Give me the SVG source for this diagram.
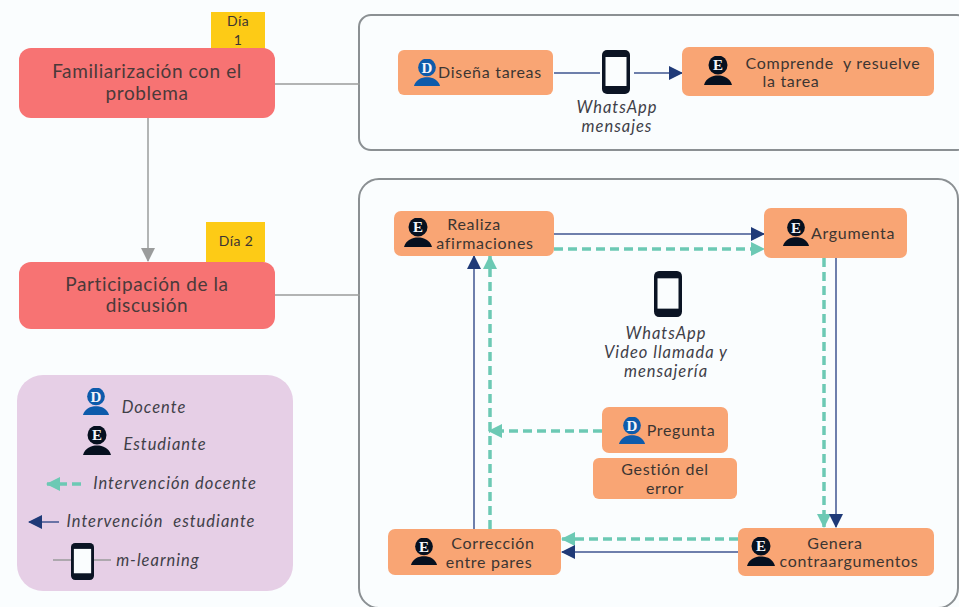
<svg xmlns="http://www.w3.org/2000/svg" width="959" height="607" viewBox="0 0 959 607">
<style>
text{font-family:"Lato","Open Sans","Liberation Sans",sans-serif;fill:#3c3532;text-anchor:middle;white-space:pre}
.t{font-size:16px;letter-spacing:.7px}
.h{font-size:19px;letter-spacing:.6px;fill:#4a3a3a}
.i{font-size:16.500px;letter-spacing:1px;font-style:italic;fill:#3f4048}
.d{font-size:14px;letter-spacing:.4px}
.o{fill:#f9a574}
.r{fill:#f77373}
.y{fill:#fdcb16}
.p{fill:#fafdfe;stroke:#8b9093;stroke-width:2}
.g{fill:none;stroke:#9a9c9c;stroke-width:1.5}
.n{fill:none;stroke:#3f5590;stroke-width:1.5}
.m{fill:none;stroke:#6cc9b4;stroke-width:3.5;stroke-dasharray:9 5}
.ltr{font-family:"Liberation Serif",serif;font-weight:700;font-size:15px;fill:#f4f6fa}
</style>
<defs>
<marker id="an" markerUnits="userSpaceOnUse" markerWidth="14" markerHeight="14" refX="13" refY="7" orient="auto"><path d="M0 0L14 7L0 14Z" fill="#1f3a78"/></marker>
<marker id="at" markerUnits="userSpaceOnUse" markerWidth="14" markerHeight="14" refX="13" refY="7" orient="auto"><path d="M0 0L14 7L0 14Z" fill="#6cc9b4"/></marker>
<marker id="ag" markerUnits="userSpaceOnUse" markerWidth="14" markerHeight="14" refX="13" refY="7" orient="auto"><path d="M0 0L14 7L0 14Z" fill="#9a9c9c"/></marker>
<symbol id="phone" viewBox="0 0 28 44" preserveAspectRatio="none"><rect width="28" height="44" rx="5" fill="#0b1424"/><rect x="3.500" y="7" width="21" height="29" fill="#fafdfe"/></symbol>
<symbol id="pd" viewBox="0 0 30 30"><circle cx="15" cy="9" r="9.500" fill="#0d5bab"/><path d="M1 29C3 22 9 19.500 15 19.500S27 22 29 29Z" fill="#0d5bab"/></symbol>
<symbol id="pe" viewBox="0 0 30 30"><circle cx="15" cy="9" r="9.500" fill="#06101f"/><path d="M1 29C3 22 9 19.500 15 19.500S27 22 29 29Z" fill="#06101f"/></symbol>
</defs>
<rect width="959" height="607" fill="#fafdfe"/>
<g id="panel1"><rect class="p" x="359" y="15" width="610" height="135" rx="12"/></g>
<g id="panel2"><rect class="p" x="359" y="179" width="599" height="429" rx="20"/></g>
<g id="connectors">
<path class="g" d="M275 84H360M275 295H360"/>
<path class="g" d="M148 118V261" marker-end="url(#ag)"/>
<path class="n" d="M554 73H600M634 73H682" marker-end="url(#an)"/>
<path class="n" d="M554 234H764" marker-end="url(#an)"/>
<path class="m" d="M554 249H764" marker-end="url(#at)"/>
<path class="m" d="M824 258V527" marker-end="url(#at)"/>
<path class="n" d="M836 258V527" marker-end="url(#an)"/>
<path class="m" d="M738 539H562" marker-end="url(#at)"/>
<path class="n" d="M738 552H562" marker-end="url(#an)"/>
<path class="n" d="M474 529V256" marker-end="url(#an)"/>
<path class="m" d="M490 529V256" marker-end="url(#at)"/>
<path class="m" d="M602 431H489" marker-end="url(#at)"/>
</g>
<g id="dia1"><rect class="y" x="211" y="12" width="54" height="38"/><text class="d" x="238" y="26">Día</text><text class="d" x="238" y="45">1</text></g>
<g id="familiarizacion"><rect class="r" x="19" y="48" width="256" height="70" rx="12"/><text class="h" x="147" y="78">Familiarización con el</text><text class="h" x="147" y="100">problema</text></g>
<g id="dia2"><rect class="y" x="206" y="222" width="59" height="40"/><text class="d" x="236" y="246">Día 2</text></g>
<g id="participacion"><rect class="r" x="19" y="262" width="256" height="67" rx="12"/><text class="h" x="147" y="291">Participación de la</text><text class="h" x="147" y="312">discusión</text></g>
<g id="disena"><rect class="o" x="398" y="50" width="155" height="45" rx="6"/><use href="#pd" x="413" y="59" width="28" height="28"/><text class="ltr" x="427" y="72.500">D</text><text class="t" x="490" y="78">Diseña tareas</text></g>
<g id="phone1"><use href="#phone" x="602" y="50" width="28" height="44"/><text class="i" x="617" y="113">WhatsApp</text><text class="i" x="617" y="132">mensajes</text></g>
<g id="comprende"><rect class="o" x="682" y="47" width="252" height="49" rx="7"/><use href="#pe" x="703" y="56" width="30" height="30"/><text class="ltr" x="718" y="70">E</text><text class="t" x="833" y="69">Comprende  y resuelve</text><text class="t" x="791" y="87">la tarea</text></g>
<g id="realiza"><rect class="o" x="394" y="211" width="160" height="45" rx="7"/><use href="#pe" x="403" y="218" width="30" height="30"/><text class="ltr" x="418" y="232">E</text><text class="t" x="474" y="230">Realiza</text><text class="t" x="485" y="249">afirmaciones</text></g>
<g id="argumenta"><rect class="o" x="764" y="208" width="143" height="50" rx="7"/><use href="#pe" x="782" y="219" width="28" height="28"/><text class="ltr" x="796" y="233">E</text><text class="t" x="853" y="239">Argumenta</text></g>
<g id="phone2"><use href="#phone" x="654" y="271" width="28" height="46"/><text class="i" x="666" y="339">WhatsApp</text><text class="i" x="666" y="358">Video llamada y</text><text class="i" x="666" y="377">mensajería</text></g>
<g id="pregunta"><rect class="o" x="602" y="407" width="126" height="46" rx="7"/><use href="#pd" x="618" y="417" width="28" height="28"/><text class="ltr" x="632" y="430.500">D</text><text class="t" x="681" y="436">Pregunta</text></g>
<g id="gestion"><rect class="o" x="593" y="458" width="144" height="41" rx="6"/><text class="t" x="665" y="475">Gestión del</text><text class="t" x="665" y="494">error</text></g>
<g id="correccion"><rect class="o" x="388" y="529" width="173" height="46" rx="7"/><use href="#pe" x="410" y="538" width="28" height="28"/><text class="ltr" x="424" y="551.500">E</text><text class="t" x="493" y="549">Corrección</text><text class="t" x="489" y="568">entre pares</text></g>
<g id="genera"><rect class="o" x="738" y="528" width="196" height="48" rx="7"/><use href="#pe" x="746" y="537" width="30" height="30"/><text class="ltr" x="761" y="551">E</text><text class="t" x="835" y="549">Genera</text><text class="t" x="849" y="567">contraargumentos</text></g>
<g id="legend"><rect x="17" y="375" width="276" height="216" rx="26" fill="#e6cfe6"/>
<use href="#pd" x="82" y="388" width="28" height="28"/><text class="ltr" x="96" y="401.500">D</text><text class="i" x="154" y="413">Docente</text>
<use href="#pe" x="82" y="426" width="30" height="30"/><text class="ltr" x="97" y="440">E</text><text class="i" x="165" y="450">Estudiante</text>
<path class="m" d="M81 484H47" marker-end="url(#at)"/><text class="i" x="175" y="489">Intervención docente</text>
<path class="n" d="M59 522H29" marker-end="url(#an)"/><text class="i" x="161" y="527">Intervención  estudiante</text>
<path class="g" d="M53 560H71M94 560H111"/><use href="#phone" x="71" y="543" width="23" height="37"/><text class="i" x="158" y="566">m-learning</text></g>
</svg>
